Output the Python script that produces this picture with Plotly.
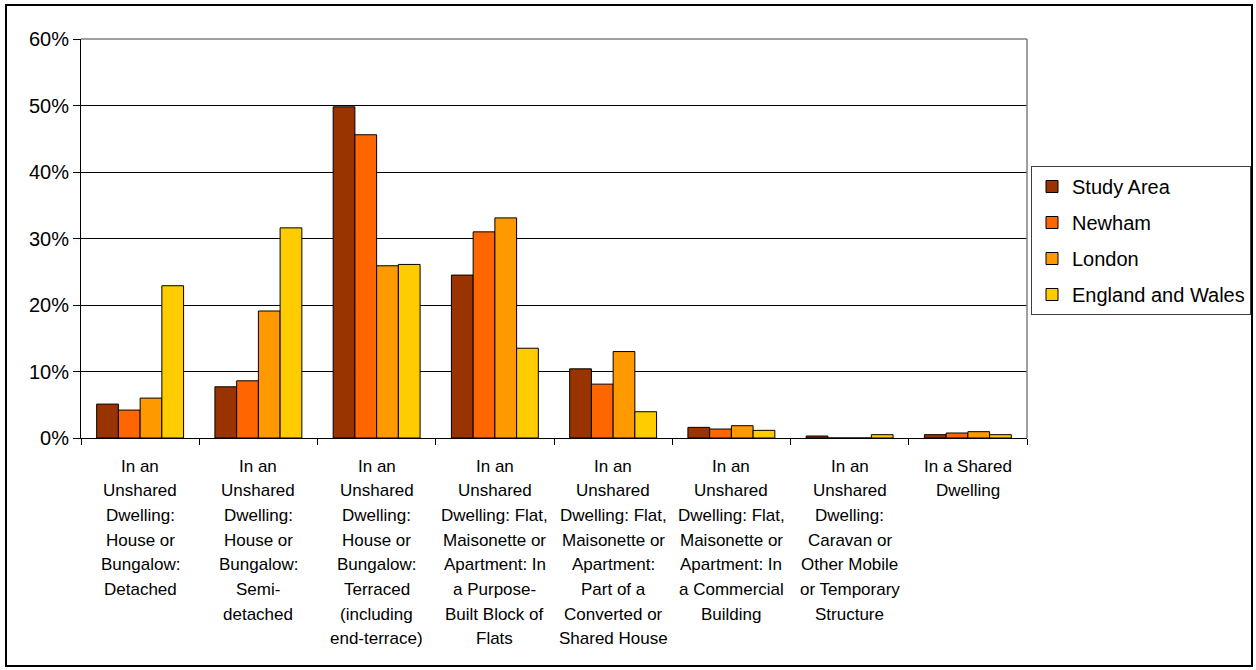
import plotly.graph_objects as go

# Accommodation type categories (each entry is the wrapped label, one string per line)
category_lines = [
    ["In an", "Unshared", "Dwelling:", "House or", "Bungalow:", "Detached"],
    ["In an", "Unshared", "Dwelling:", "House or", "Bungalow:", "Semi-", "detached"],
    ["In an", "Unshared", "Dwelling:", "House or", "Bungalow:", "Terraced", "(including", "end-terrace)"],
    ["In an", "Unshared", "Dwelling: Flat,", "Maisonette or", "Apartment: In", "a Purpose-", "Built Block of", "Flats"],
    ["In an", "Unshared", "Dwelling: Flat,", "Maisonette or", "Apartment:", "Part of a", "Converted or", "Shared House"],
    ["In an", "Unshared", "Dwelling: Flat,", "Maisonette or", "Apartment: In", "a Commercial", "Building"],
    ["In an", "Unshared", "Dwelling:", "Caravan or", "Other Mobile", "or Temporary", "Structure"],
    ["In a Shared", "Dwelling"],
]
categories = [" ".join(lines) for lines in category_lines]

# Share of households by accommodation type (%)
study_area = [5.1, 7.7, 49.8, 24.5, 10.4, 1.6, 0.3, 0.5]
newham = [4.2, 8.6, 45.6, 31.0, 8.1, 1.35, 0.0, 0.75]
london = [6.0, 19.1, 25.9, 33.1, 13.0, 1.85, 0.0, 0.95]
england_wales = [22.9, 31.6, 26.1, 13.5, 3.95, 1.15, 0.5, 0.5]

series = [
    ("Study Area", study_area, "#993300"),
    ("Newham", newham, "#FF6600"),
    ("London", london, "#FF9900"),
    ("England and Wales", england_wales, "#FFCC00"),
]

y_ticks = [0, 10, 20, 30, 40, 50, 60]
y_tick_labels = [f"{v}%" for v in y_ticks]

FONT = "Liberation Sans, Arial, sans-serif"

fig = go.Figure()
for i, (name, values, color) in enumerate(series):
    fig.add_trace(go.Bar(
        name=name,
        x=categories,
        y=values,
        marker=dict(color=color, line=dict(color="black", width=1)),
        legendgroup=f"g{i}",
    ))

W, H = 1256, 670
L, R, T, B = 81, 229, 39, 232
pw, ph = W - L - R, H - T - B

def px_to_paper_x(px):
    return (px - L) / pw

def px_to_paper_y(py):
    return (H - B - py) / ph

fig.update_layout(
    width=W, height=H,
    margin=dict(l=L, r=R, t=T, b=B, pad=0, autoexpand=False),
    paper_bgcolor="white",
    plot_bgcolor="white",
    barmode="group",
    bargap=0.265,
    bargroupgap=0,
    font=dict(family=FONT, color="black", size=20),
    showlegend=True,
    legend=dict(
        x=px_to_paper_x(1031), y=px_to_paper_y(166),
        xanchor="left", yanchor="top",
        bgcolor="white",
        bordercolor="#404040", borderwidth=1,
        font=dict(family=FONT, size=20, color="black"),
        traceorder="grouped",
        tracegroupgap=7,
    ),
    xaxis=dict(
        type="category",
        showticklabels=False,
        tickson="boundaries",
        ticks="outside", ticklen=6, tickcolor="black", tickwidth=1,
        showline=True, linecolor="black", linewidth=1,
        showgrid=False,
        range=[-0.5, len(categories) - 0.5],
    ),
    yaxis=dict(
        range=[0, 60],
        tickvals=y_ticks,
        ticktext=y_tick_labels,
        ticks="outside", ticklen=7, tickcolor="black", tickwidth=1,
        showline=True, linecolor="black", linewidth=1,
        showgrid=True, gridcolor="black", gridwidth=1,
        zeroline=False,
        tickfont=dict(family=FONT, size=20, color="black"),
    ),
)

# Plot area frame on the top and right edges
fig.add_shape(type="line", xref="paper", yref="paper", x0=0, x1=1, y0=1, y1=1,
              line=dict(color="#808080", width=1.5), layer="above")
fig.add_shape(type="line", xref="paper", yref="paper", x0=1, x1=1, y0=0, y1=1,
              line=dict(color="#808080", width=1.5), layer="above")

# Outer chart border
fig.add_shape(type="rect", xref="paper", yref="paper",
              x0=px_to_paper_x(6), x1=px_to_paper_x(1252),
              y0=px_to_paper_y(666), y1=px_to_paper_y(5),
              line=dict(color="black", width=2), fillcolor="rgba(0,0,0,0)", layer="above")

# Wrapped category labels below the axis
line_step = 24.7
for cat, lines in zip(categories, category_lines):
    for j, text in enumerate(lines):
        fig.add_annotation(
            x=cat, xref="x", y=0, yref="paper",
            text=text, showarrow=False,
            xanchor="center", yanchor="middle",
            yshift=-(28 + j * line_step),
            font=dict(family=FONT, size=17, color="black"),
        )

fig.write_html("out.html")
